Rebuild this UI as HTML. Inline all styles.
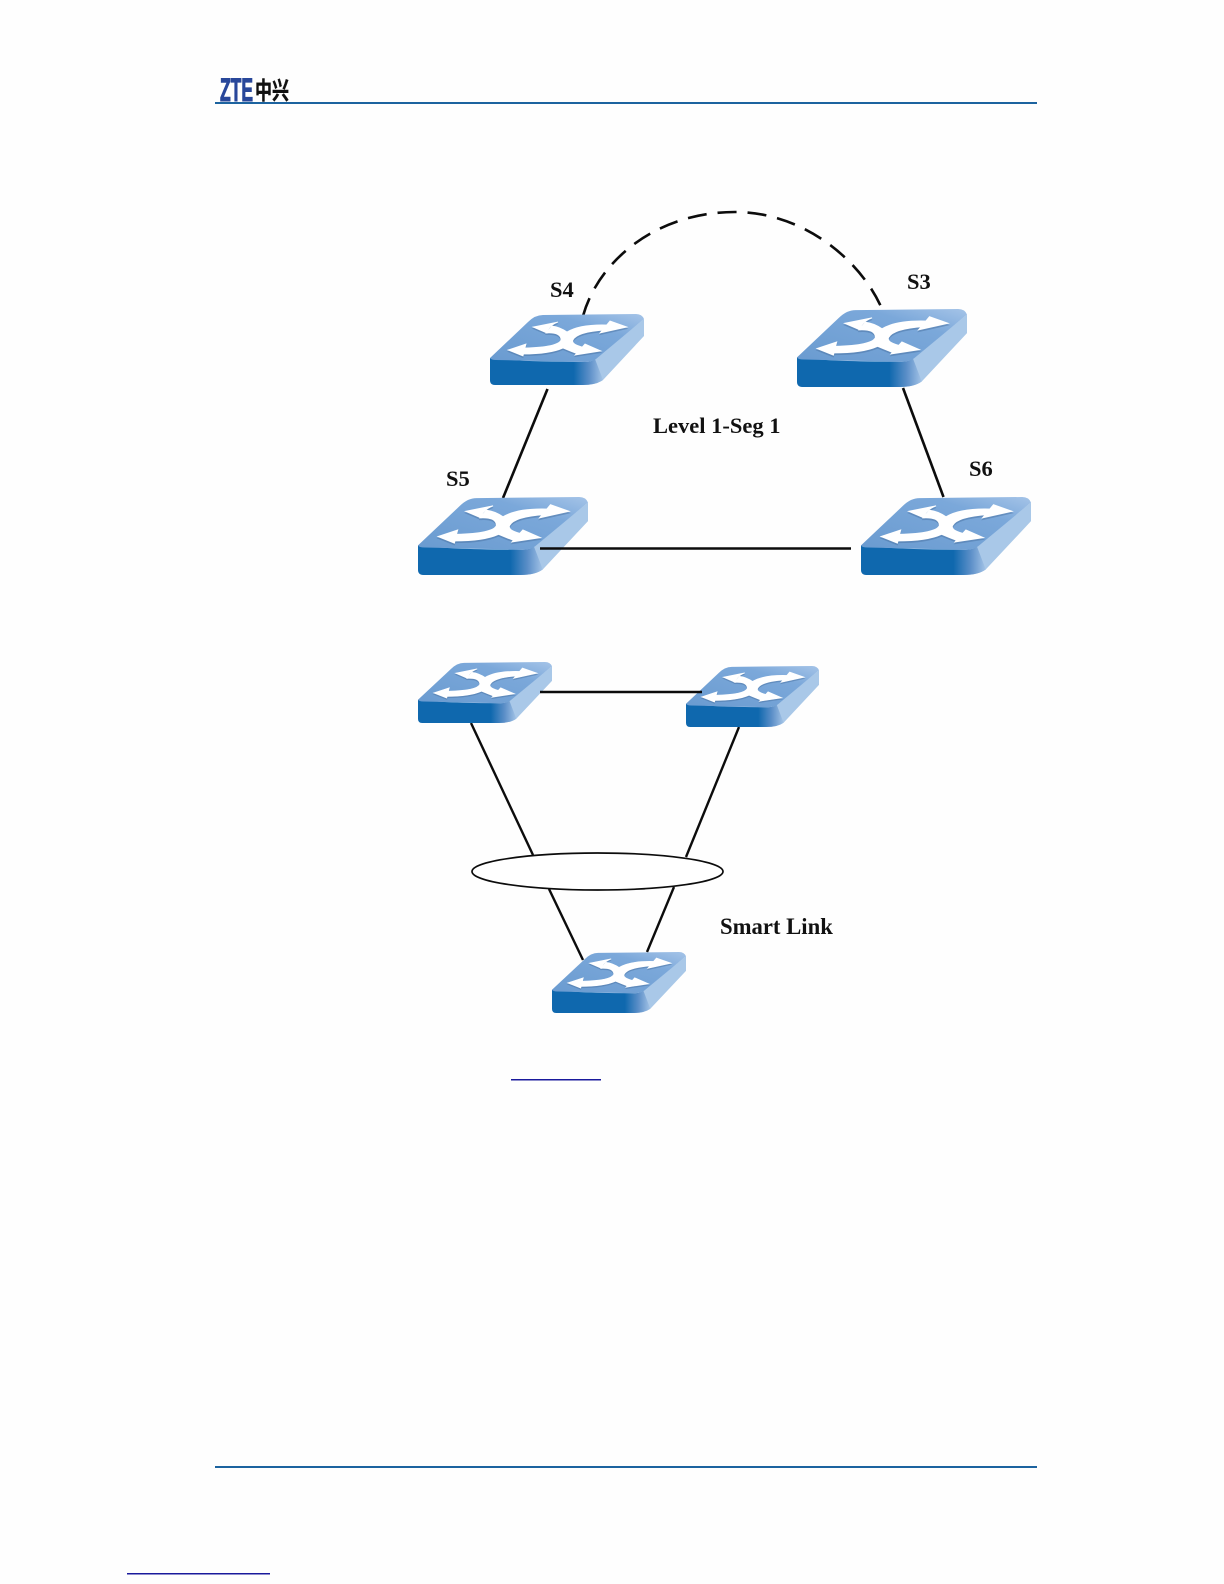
<!DOCTYPE html>
<html>
<head>
<meta charset="utf-8">
<style>
html,body{margin:0;padding:0;background:#fefefe;width:1224px;height:1584px;overflow:hidden}
svg{display:block}
text{font-family:"Liberation Serif","Noto Serif CJK SC",serif;font-weight:bold;fill:#111}
</style>
</head>
<body>
<svg width="1224" height="1584" viewBox="0 0 1224 1584" xmlns="http://www.w3.org/2000/svg">
<defs>
<linearGradient id="front" x1="0" y1="0" x2="1" y2="0">
<stop offset="0" stop-color="#0f68ae"/><stop offset=".74" stop-color="#0f68ae"/><stop offset=".88" stop-color="#5c8fc8"/><stop offset="1" stop-color="#a3c3e6"/>
</linearGradient>
<linearGradient id="top" x1="0" y1="1" x2="1" y2="0">
<stop offset="0" stop-color="#6a9bd0"/><stop offset=".7" stop-color="#7ba8da"/><stop offset="1" stop-color="#a5c4e8"/>
</linearGradient>
<symbol id="sw" viewBox="0 0 154 71" preserveAspectRatio="none">
<path d="M0,44 L95,48 Q100,48 104,46 L154,5 V22 L113,66 Q106,71 93,71 L5,71 Q0,71 0,66 Z" fill="#a9c8e8"/>
<path d="M0,44 Q30,48 95,48 Q101,48 105,45 L113,66 Q106,71 93,71 L5,71 Q0,71 0,66 Z" fill="url(#front)"/>
<path d="M0,44 L38,8 Q45,1 53,1 L146,0 Q152,0 154,5 L106,45 Q101,48 95,48 L6,46 Q1,46 0,44 Z" fill="url(#top)"/>
<g fill="#4f78a8" stroke="#4f78a8" stroke-width=".8" opacity=".55" transform="translate(0,1.6)">
<path d="M43,13 L68,8 Q58,12 57,19 Z M18,36 L36,30 L33,42 Z M137,13 L120,7 L110,19 Z M111,37 L95,30 L85,41 Z"/>
<path d="M56,19 Q71,18 71,26 Q68,33 35,34 L33,40 Q60,40 73,34 Q80,37 88,40 L92,33 Q81,30 83,26 Q87,18 115,16 L118,11 Q90,10 77,18 Q70,13 62,12 Z"/>
</g>
<g fill="#fff" stroke="#fff" stroke-width=".8">
<path d="M43,13 L68,8 Q58,12 57,19 Z M18,36 L36,30 L33,42 Z M137,13 L120,7 L110,19 Z M111,37 L95,30 L85,41 Z"/>
<path d="M56,19 Q71,18 71,26 Q68,33 35,34 L33,40 Q60,40 73,34 Q80,37 88,40 L92,33 Q81,30 83,26 Q87,18 115,16 L118,11 Q90,10 77,18 Q70,13 62,12 Z"/>
</g>
</symbol>
</defs>

<rect width="1224" height="1584" fill="#fefefe"/>

<!-- header -->
<text x="220" y="101" font-size="32" textLength="33" lengthAdjust="spacingAndGlyphs" style="font-family:'Liberation Sans',sans-serif;fill:#28479a;stroke:#28479a;stroke-width:1.1">ZTE</text>
<text x="255" y="99" textLength="34" lengthAdjust="spacingAndGlyphs" style="font-family:'Liberation Sans','Noto Sans CJK SC',sans-serif;fill:#111;font-size:24px;stroke:#111;stroke-width:.4">中兴</text>
<rect x="215" y="102" width="822" height="2" fill="#1c639f"/>

<!-- footer -->
<rect x="215" y="1466" width="822" height="2" fill="#1c639f"/>
<rect x="511" y="1079" width="90" height="1.5" fill="#1a1a9c"/>
<rect x="127" y="1573" width="143" height="1.5" fill="#1a1a9c"/>

<!-- upper connectors -->
<g fill="none" stroke="#0c0c0c" stroke-width="2.6">
<path d="M583,316 C598,262 655,212 735,212 C805,212 862,262 882,309" stroke-dasharray="19 11"/>
<path d="M547.5,389 L503,498"/>
<path d="M903,388 L943.5,497"/>
</g>

<use href="#sw" x="490" y="314" width="154" height="71"/>
<use href="#sw" x="797" y="309" width="170" height="78"/>
<use href="#sw" x="418" y="497" width="170" height="78"/>
<use href="#sw" x="861" y="497" width="170" height="78"/>

<path d="M540,548.5 L851,548.5" fill="none" stroke="#0c0c0c" stroke-width="2.4"/>

<text x="550" y="297" font-size="22.5">S4</text>
<text x="907" y="289" font-size="22.5">S3</text>
<text x="446" y="486" font-size="22.5">S5</text>
<text x="969" y="476" font-size="22.5">S6</text>
<text x="653" y="433" font-size="22.5">Level 1-Seg 1</text>

<!-- lower connectors -->
<g fill="none" stroke="#0c0c0c" stroke-width="2.4">
<path d="M471,723 L533,855"/>
<path d="M739,727 L686,857"/>
<path d="M549,889 L583,960"/>
<path d="M674,887 L647,952"/>
</g>
<ellipse cx="597.5" cy="871.5" rx="125.5" ry="18.5" fill="#fff" stroke="#0c0c0c" stroke-width="1.7"/>

<use href="#sw" x="418" y="662" width="134" height="61"/>
<use href="#sw" x="686" y="666" width="133" height="61"/>
<use href="#sw" x="552" y="952" width="134" height="61"/>
<path d="M540,692 L702,692" fill="none" stroke="#0c0c0c" stroke-width="2.4"/>

<text x="720" y="934" font-size="22.7">Smart Link</text>
</svg>
</body>
</html>
